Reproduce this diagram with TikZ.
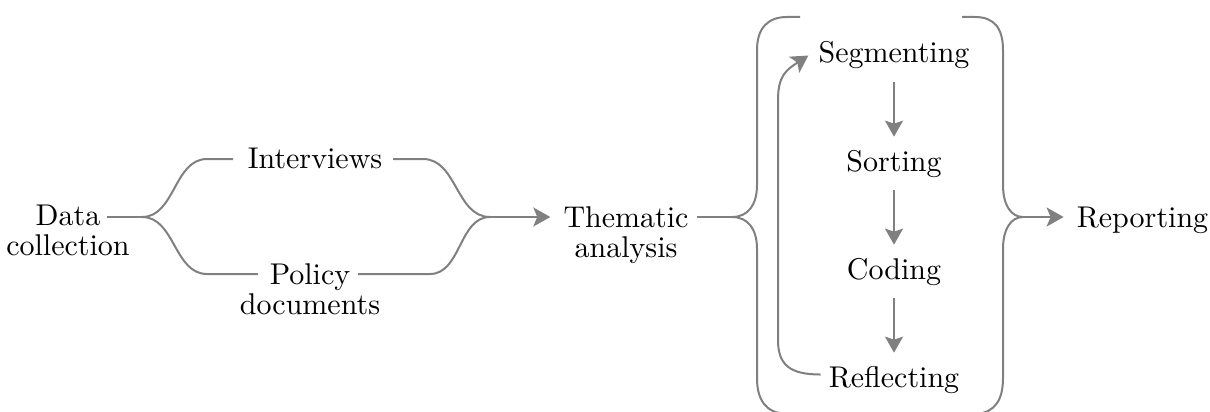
\documentclass[tikz,border=0pt]{standalone}
\usepackage{fontspec}
\setmainfont{lmroman10-regular.otf}
\usetikzlibrary{arrows.meta,calc}
\definecolor{linegray}{RGB}{128,128,128}
\tikzset{
  lbl/.style={font=\fontsize{30}{30}\selectfont, inner sep=0pt, align=center},
  ln/.style={draw=linegray, line width=2pt},
  arr/.style={ln, -{Stealth[length=17pt,width=19pt,inset=4pt]}},
  darr/.style={ln, -{Stealth[length=16pt,width=18pt,inset=3pt]}, shorten <=13pt, shorten >=13pt},
}
\begin{document}
\begin{tikzpicture}[x=1pt,y=-1pt]
\useasboundingbox (0,0) rectangle (1210,412);

% text nodes
\node[lbl, anchor=north] (data) at (68,205) {Data\\collection};
\node[lbl, anchor=base] (interviews) at (315,168) {Interviews};
\node[lbl, anchor=north] (policy) at (310,263) {Policy\\documents};
\node[lbl, anchor=north] (thematic) at (626,206.5) {Thematic\\analysis};
\node[lbl, anchor=base] (seg) at (894,63) {Segmenting};
\node[lbl, anchor=base] (sort) at (894,171) {Sorting};
\node[lbl, anchor=base] (coding) at (894,279) {Coding};
\node[lbl, anchor=base] (refl) at (894,387) {Reflecting};
\node[lbl, anchor=base] (reporting) at (1142.5,227.5) {Reporting};

% branch and join points
\coordinate (split) at (142,217);
\coordinate (join) at (490,217);
\coordinate (ltip) at (732,217);
\coordinate (rtip) at (1023,217);
\coordinate (int-in) at (233,159);
\coordinate (int-out) at (393,159);
\coordinate (pol-in) at (258,274);
\coordinate (pol-out) at (358,274);

% data collection fork
\draw[ln] ($(data.north)+(39,12)$) -- (split);
\draw[ln] (split) .. controls (175,217) and (174,159) .. (207,159) -- (int-in);
\draw[ln] (split) .. controls (175,217) and (174,274) .. (207,274) -- (pol-in);
\draw[ln] (int-out) -- (423,159) .. controls (457,159) and (456,217) .. (join);
\draw[ln] (pol-out) -- (430,274) .. controls (461,274) and (459,217) .. (join);
\draw[arr] (join) -- ($(thematic.west |- join)+(-13,0)$);

% left brace
\draw[ln] ($(thematic.east |- ltip)+(8,0)$) -- (ltip);
\draw[ln] (800,17) -- (787,17) .. controls (768,17) and (757,28) .. (757,50)
  -- (757,185) .. controls (757,205) and (748,217) .. (ltip)
  .. controls (748,217) and (757,229) .. (757,249)
  -- (757,378) .. controls (757,400) and (766,413) .. (786,414) -- (800,414);

% right brace
\draw[ln] (962,17) -- (975,17) .. controls (994,17) and (1003,28) .. (1003,50)
  -- (1003,185) .. controls (1003,205) and (1011,217) .. (rtip)
  .. controls (1011,217) and (1003,229) .. (1003,249)
  -- (1003,378) .. controls (1003,400) and (995,412) .. (977,414);
\draw[arr] (rtip) -- ($(reporting.west |- rtip)+(-13,0)$);

% analysis steps
\draw[darr] (seg) -- (sort);
\draw[darr] (sort) -- (coding);
\draw[darr] (coding) -- (refl);
\draw[arr] ($(refl.west)+(-8,-5)$) .. controls (790,374.5) and (778,365) .. (778,340)
  -- (778,100) .. controls (778,76) and (786,70) .. ($(seg.west)+(-10,0)$);
\end{tikzpicture}
\end{document}
